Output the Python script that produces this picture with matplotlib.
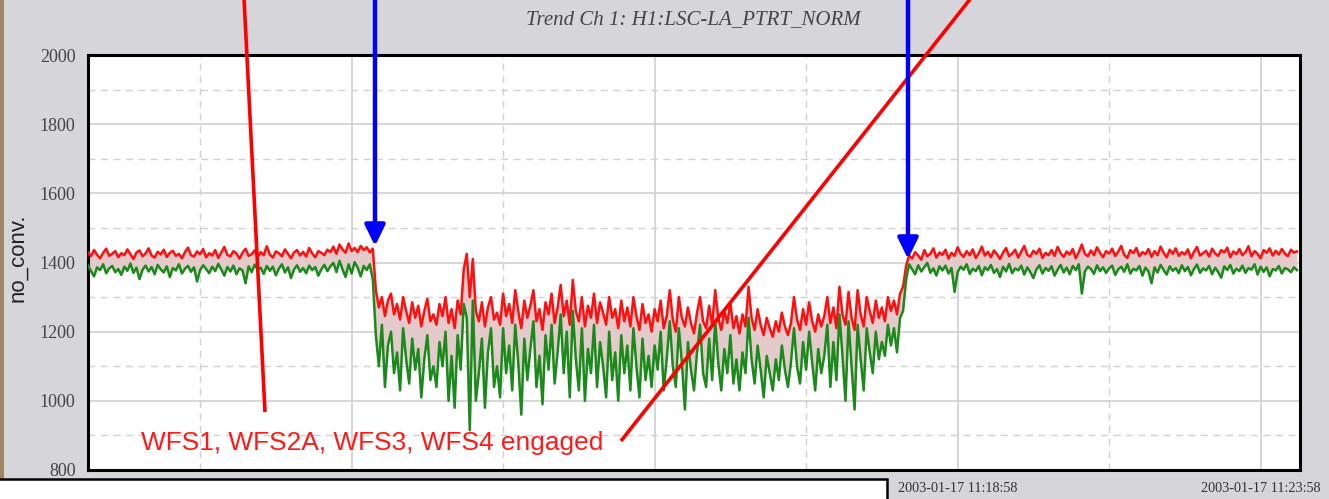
import numpy as np
import matplotlib
matplotlib.use('Agg')
import matplotlib.pyplot as plt
from matplotlib.patches import Rectangle

# time axis: seconds after 11:00:00, one sample every 3 s
t_start = 277
t_step = 3

# max of each sample (red)
red_max = [
    1430, 1418, 1436, 1422, 1412, 1428, 1440, 1419, 1425, 1433,
    1415, 1427, 1421, 1438, 1424, 1410, 1429, 1435, 1418, 1426,
    1441, 1420, 1414, 1431, 1423, 1437, 1416, 1428, 1434, 1419,
    1425, 1412, 1430, 1443, 1421, 1417, 1432, 1424, 1439, 1415,
    1427, 1420, 1436, 1413, 1429, 1445, 1422, 1418, 1433, 1426,
    1411, 1428, 1440, 1419, 1424, 1435, 1416, 1430, 1421, 1447,
    1423, 1414, 1432, 1427, 1418, 1438, 1425, 1412, 1429, 1436,
    1420, 1431, 1417, 1442, 1426, 1415, 1433, 1428, 1421, 1437,
    1430, 1446, 1425, 1452, 1438, 1428, 1455, 1433, 1442, 1430,
    1448, 1436, 1444, 1429, 1440,
    # WFS engaged
    1320, 1270, 1300, 1245, 1290, 1310, 1250, 1280, 1235, 1300,
    1260, 1225, 1285, 1240, 1275, 1215, 1260, 1295, 1230, 1250,
    1220, 1280, 1245, 1300, 1225, 1265, 1210, 1290, 1250, 1380,
    1425, 1300, 1410, 1260, 1230, 1285, 1215, 1270, 1300, 1235,
    1255, 1220, 1310, 1245, 1280, 1225, 1320, 1260, 1210, 1290,
    1240, 1275, 1320, 1230, 1265, 1205, 1285, 1250, 1310, 1225,
    1270, 1335, 1245, 1290, 1220, 1350, 1260, 1230, 1300, 1215,
    1275, 1240, 1310, 1225, 1285, 1255, 1220, 1300, 1240, 1265,
    1210, 1290, 1230, 1270, 1215, 1300, 1245, 1205, 1280, 1225,
    1250, 1200, 1265, 1230, 1290, 1210, 1245, 1320, 1235, 1200,
    1300, 1240, 1215, 1270, 1225, 1195, 1255, 1300, 1230, 1210,
    1275, 1220, 1320, 1240, 1205, 1260, 1225, 1285, 1210, 1245,
    1195, 1250, 1215, 1330, 1240, 1205, 1265, 1220, 1190, 1240,
    1210, 1185, 1230, 1200, 1255, 1215, 1190, 1225, 1300, 1235,
    1205, 1265, 1220, 1285, 1230, 1200, 1250, 1215, 1245, 1300,
    1225, 1270, 1210, 1330, 1250, 1220, 1315, 1240, 1205, 1320,
    1250, 1215, 1300, 1260, 1225, 1290, 1240, 1270, 1230, 1300,
    1260, 1290, 1250, 1310,
    1330, 1390, 1420,
    # back to normal
    1412, 1430, 1420, 1408, 1436, 1418, 1425, 1441, 1414, 1429,
    1422, 1437, 1411, 1428, 1419, 1444, 1425, 1416, 1433, 1421,
    1438, 1413, 1427, 1446, 1420, 1431, 1415, 1435, 1424, 1410,
    1429, 1442, 1418, 1426, 1437, 1414, 1431, 1448, 1422, 1417,
    1434, 1425, 1440, 1413, 1428, 1421, 1436, 1419, 1445, 1427,
    1416, 1432, 1423, 1439, 1412, 1430, 1452, 1425, 1418, 1435,
    1421, 1444, 1428, 1415, 1433, 1426, 1440, 1419, 1431, 1448,
    1422, 1413, 1436, 1427, 1442, 1418, 1430, 1424, 1439, 1416,
    1433, 1421, 1446, 1428, 1415, 1437, 1425, 1441, 1419, 1430,
    1423, 1438, 1412, 1431, 1445, 1420, 1427, 1434, 1417, 1440,
    1426, 1419, 1436, 1429, 1443, 1415, 1432, 1424, 1439, 1421,
    1430, 1447, 1418, 1433, 1425, 1412, 1436, 1428, 1441, 1420,
    1434, 1423, 1439, 1426, 1418, 1437, 1429, 1432,
]

# min of each sample (green)
green_min = [
    1392, 1375, 1360, 1386, 1378, 1395, 1369, 1383, 1390, 1372,
    1381, 1364, 1388, 1376, 1397, 1370, 1385, 1352, 1379, 1391,
    1374, 1387, 1366, 1393, 1380, 1371, 1389, 1358, 1384, 1377,
    1395, 1368, 1382, 1390, 1373, 1386, 1345, 1378, 1392, 1381,
    1369, 1388, 1375, 1396, 1380, 1362, 1387, 1374, 1391, 1366,
    1383, 1377, 1340, 1389, 1372, 1394, 1379, 1385, 1367, 1390,
    1376, 1388, 1363, 1382, 1395, 1371, 1386, 1355, 1380, 1392,
    1373, 1384, 1369, 1391, 1378, 1387, 1362, 1380, 1393, 1375,
    1389, 1399, 1372, 1405, 1380, 1358, 1395, 1368, 1401, 1385,
    1360, 1390, 1378, 1395, 1350,
    # WFS engaged
    1190, 1100, 1220, 1040, 1160, 1200, 1080, 1140, 1030, 1210,
    1120, 1050, 1180, 1090, 1150, 1010, 1120, 1190, 1060, 1100,
    1040, 1170, 1100, 1200, 1000, 1130, 980, 1190, 1090, 1280,
    1240, 915, 1290, 1000, 1080, 1180, 980, 1140, 1210, 1040,
    1100, 1010, 1210, 1080, 1160, 1030, 1220, 1110, 960, 1180,
    1060, 1150, 1230, 1040, 1130, 990, 1190, 1090, 1220, 1050,
    1140, 1250, 1080, 1200, 1010, 1260, 1120, 1030, 1210, 1000,
    1150, 1080, 1220, 1040, 1170, 1100, 1010, 1200, 1060, 1140,
    1000, 1190, 1080, 1160, 1030, 1210, 1100, 1010, 1180, 1060,
    1130, 1040, 1160, 1090, 1200, 1030, 1120, 1230, 1100, 1040,
    1210, 1110, 975, 1170, 1090, 1030, 1140, 1220, 1080, 1040,
    1180, 1060, 1230, 1110, 1030, 1150, 1080, 1190, 1050, 1120,
    1030, 1140, 1080, 1240, 1120, 1050, 1160, 1090, 1010, 1130,
    1080, 1030, 1120, 1060, 1160, 1090, 1040, 1110, 1210, 1100,
    1050, 1170, 1090, 1200, 1110, 1030, 1150, 1080, 1130, 1220,
    1040, 1170, 1060, 1250, 1130, 1000, 1230, 1100, 975, 1220,
    1120, 1030, 1210, 1140, 1080, 1200, 1120, 1170, 1130, 1220,
    1160, 1210, 1140, 1240,
    1260, 1350, 1395,
    # back to normal
    1380, 1366, 1392, 1374, 1386, 1399, 1370, 1383, 1362, 1389,
    1377, 1391, 1368, 1384, 1315, 1372, 1388, 1379, 1395, 1367,
    1382, 1375, 1390, 1363, 1386, 1378, 1393, 1370, 1381, 1358,
    1388, 1374, 1396, 1369, 1383, 1377, 1391, 1365, 1386, 1372,
    1355, 1380, 1392, 1368, 1384, 1376, 1389, 1362, 1379, 1393,
    1371, 1385, 1366, 1390, 1378, 1395, 1310, 1374, 1388, 1381,
    1367, 1392, 1375, 1386, 1370, 1383, 1391, 1364, 1380, 1388,
    1373, 1395, 1368, 1382, 1377, 1390, 1362, 1385, 1374, 1340,
    1386, 1371, 1393, 1378, 1365, 1389, 1376, 1384, 1369, 1392,
    1375, 1387, 1363, 1381, 1394, 1370, 1383, 1377, 1390, 1366,
    1385, 1372, 1356, 1389, 1378, 1393, 1368, 1382, 1375, 1391,
    1370, 1384, 1379, 1395, 1365, 1388, 1373, 1386, 1360, 1381,
    1377, 1390, 1368, 1384, 1380, 1372, 1386, 1378,
]

x_major = [538, 838, 1138, 1438]
x_major_labels = ['2003-01-17 11:08:58', '2003-01-17 11:13:58',
                  '2003-01-17 11:18:58', '2003-01-17 11:23:58']
x_minor = [388, 688, 988, 1288]
y_major = [800, 1000, 1200, 1400, 1600, 1800, 2000]
y_minor = [900, 1100, 1300, 1500, 1700, 1900]

title = 'Trend Ch 1: H1:LSC-LA_PTRT_NORM'
ylabel = 'no_conv.'
note = 'WFS1, WFS2A, WFS3, WFS4 engaged'

t = t_start + t_step * np.arange(len(red_max))

W, H = 1329, 499
bg = '#d6d6da'
fig = plt.figure(figsize=(W / 100, H / 100), dpi=100, facecolor=bg)

ax = fig.add_axes([88 / W, 1 - 470 / H, (1300 - 88) / W, (470 - 55) / H])
ax.set_facecolor('white')
ax.set_xlim(277, 1477)
ax.set_ylim(800, 2000)

# grid
ax.set_xticks(x_major)
ax.set_xticklabels(x_major_labels, fontsize=10.3, family='Liberation Serif', color='#333333')
ax.set_xticks(x_minor, minor=True)
ax.set_yticks(y_major)
ax.set_yticklabels([str(v) for v in y_major], fontsize=13, family='Liberation Serif', color='#444444')
ax.set_yticks(y_minor, minor=True)
ax.tick_params(which='both', length=0)
ax.tick_params(axis='y', pad=9)
ax.tick_params(axis='x', pad=9)
ax.grid(which='major', color='#cfcfd3', lw=1.2, ls='-')
ax.grid(which='minor', color='#d3cfd6', lw=1.0, ls=(0, (5, 4)))
ax.set_axisbelow(True)
for s in ax.spines.values():
    s.set_linewidth(2.2)
    s.set_color('black')

ax.fill_between(t, green_min, red_max, color='#e4caca', lw=0, zorder=2)
ax.plot(t, red_max, color='#ff1010', lw=1.8, zorder=3)
ax.plot(t, green_min, color='#1a8a1a', lw=1.8, zorder=4)

# overlay in pixel coordinates for the hand-drawn annotations
ov = fig.add_axes([0, 0, 1, 1], zorder=5)
ov.set_xlim(0, W)
ov.set_ylim(H, 0)
ov.axis('off')

ov.text(693, 20, title, ha='center', va='center', fontsize=15, style='italic',
        family='Liberation Serif', color='#444444')
ov.text(18, 258, ylabel, ha='center', va='center', rotation=90, fontsize=16,
        family='Liberation Sans', color='#222222')

ov.plot([244, 265], [-2, 412], color='#ff0000', lw=2.6, solid_capstyle='butt')
ov.plot([971, 621], [-2, 441], color='#ff0000', lw=2.6, solid_capstyle='butt')

for x0, y1 in [(375, 246), (908, 259)]:
    ov.annotate('', xy=(x0, y1), xytext=(x0, -5),
                arrowprops=dict(arrowstyle='-|>,head_length=0.45,head_width=0.22',
                                color='#0000ff', lw=3.2, mutation_scale=28,
                                shrinkA=0, shrinkB=0))

ov.text(141, 443, note, ha='left', va='center', fontsize=18.9,
        family='Liberation Sans', color='#ff1a1a')

ov.add_patch(Rectangle((0, 0), 4, H, color='#9e8563', lw=0))
ov.add_patch(Rectangle((-2, 479), 889, 25, facecolor='white', edgecolor='black', lw=1.8))

fig.savefig('out.png', dpi=100, facecolor=bg)
